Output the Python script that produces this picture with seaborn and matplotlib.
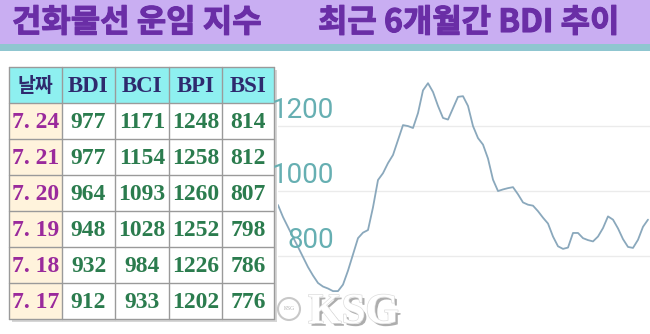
import matplotlib
matplotlib.use("Agg")
import matplotlib.pyplot as plt
import matplotlib.patheffects as pe
from matplotlib.patches import Rectangle, Circle
import seaborn as sns
import pandas as pd

# ---------------- data ----------------
title_left = "건화물선 운임 지수"
title_right = "최근 6개월간 BDI 추이"

table_cols = ["날짜", "BDI", "BCI", "BPI", "BSI"]
dates = ["7. 24", "7. 21", "7. 20", "7. 19", "7. 18", "7. 17"]
bdi = [977, 977, 964, 948, 932, 912]
bci = [1171, 1154, 1093, 1028, 984, 933]
bpi = [1248, 1258, 1260, 1252, 1226, 1202]
bsi = [814, 812, 807, 798, 786, 776]

# BDI over the last 6 months (evenly spaced samples)
bdi_trend = [957, 920, 889, 858, 828, 797, 766, 740, 717, 706, 700, 692, 692, 712,
             755, 805, 855, 872, 880, 950, 1034, 1055, 1086, 1111, 1157, 1203, 1200,
             1194, 1240, 1310, 1332, 1305, 1262, 1225, 1220, 1255, 1290, 1292, 1262,
             1200, 1163, 1143, 1100, 1035, 1000, 1005, 1009, 1012, 990, 965, 958, 955,
             938, 918, 900, 860, 830, 822, 826, 871, 871, 855, 849, 845, 860, 886,
             922, 912, 885, 852, 828, 825, 850, 890, 912]
y_ticks = [800, 1000, 1200]
watermark = "KSG"

# ---------------- figure ----------------
sns.set_theme(style="white")
plt.rcParams["font.family"] = ["Noto Sans CJK KR", "DejaVu Sans"]

W, H = 650, 334
fig = plt.figure(figsize=(W / 100, H / 100), dpi=100)
fig.patch.set_facecolor("white")

bg = fig.add_axes([0, 0, 1, 1])
bg.set_xlim(0, W)
bg.set_ylim(H, 0)
bg.axis("off")

# header band
bg.add_patch(Rectangle((0, 0), W, 44, color="#c9aef2", lw=0))
bg.add_patch(Rectangle((0, 44), W, 7, color="#8fc6d0", lw=0))
title_color = "#6a2ea6"
for x0, t in [(12, title_left), (318, title_right)]:
    bg.text(x0, 23, t, fontsize=23, fontweight="bold", color=title_color,
            va="center", ha="left",
            path_effects=[pe.Stroke(linewidth=0.8, foreground=title_color), pe.Normal()])

# ---------------- table ----------------
col_edges = [9, 62, 115, 169, 222, 274]
row_top, row_h = 67, 36
n_rows = len(dates) + 1
tbl_bottom = row_top + row_h * n_rows

# shadow
bg.add_patch(Rectangle((col_edges[0] + 3, row_top + 3), col_edges[-1] - col_edges[0],
                       tbl_bottom - row_top, color="#d6d6d6", lw=0, zorder=1))
bg.add_patch(Rectangle((col_edges[0], row_top), col_edges[-1] - col_edges[0],
                       tbl_bottom - row_top, color="white", lw=0, zorder=2))
bg.add_patch(Rectangle((col_edges[0], row_top), col_edges[-1] - col_edges[0], row_h,
                       color="#8ef0f0", lw=0, zorder=2))
bg.add_patch(Rectangle((col_edges[0], row_top + row_h), col_edges[1] - col_edges[0],
                       row_h * len(dates), color="#fff3dc", lw=0, zorder=2))
for x in col_edges:
    bg.plot([x, x], [row_top, tbl_bottom], color="#9a9a9a", lw=1, zorder=3)
for r in range(n_rows + 1):
    y = row_top + r * row_h
    bg.plot([col_edges[0], col_edges[-1]], [y, y], color="#9a9a9a", lw=1, zorder=3)

centers = [(col_edges[i] + col_edges[i + 1]) / 2 for i in range(len(col_edges) - 1)]
serif = ["Liberation Serif", "DejaVu Serif"]
head_color = "#2e2a6e"
for i, c in enumerate(table_cols):
    fam = ["Noto Sans CJK KR", "DejaVu Sans"] if i == 0 else serif
    fs = 14 if i == 0 else 16.5
    bg.text(centers[i], row_top + row_h / 2 + 1, c, fontsize=fs, fontweight="bold",
            family=fam, color=head_color, ha="center", va="center", zorder=4)

df = pd.DataFrame({"날짜": dates, "BDI": bdi, "BCI": bci, "BPI": bpi, "BSI": bsi})
for r, row in df.iterrows():
    yc = row_top + row_h * (r + 1) + row_h / 2 + 1
    for i, c in enumerate(table_cols):
        color = "#9a2a9c" if i == 0 else "#2b7c4e"
        bg.text(centers[i], yc, str(row[c]), fontsize=17, fontweight="bold",
                family=serif, color=color, ha="center", va="center", zorder=4)

# ---------------- line chart ----------------
px_left, px_top = 278, 52
ax = fig.add_axes([px_left / W, 0, (W - px_left) / W, (H - px_top) / H])
ax.set_facecolor("none")
trend = pd.DataFrame({"i": range(len(bdi_trend)), "BDI": bdi_trend})
sns.lineplot(data=trend, x="i", y="BDI", ax=ax, color="#8aa8bc", lw=1.3)
ax.set_xlim(0, (W - px_left) / 5)
ax.set_ylim(560, 1428)
for v in y_ticks:
    ax.axhline(v, color="#ebebeb", lw=1, zorder=0)
    ax.text((334 - px_left) / (W - px_left), v + 6, str(v),
            transform=ax.get_yaxis_transform(), ha="right", va="bottom",
            fontsize=20, family=["Liberation Sans Narrow", "Roboto", "DejaVu Sans"],
            color="#66afb2")
ax.set_xlabel("")
ax.set_ylabel("")
ax.set_xticks([])
ax.set_yticks([])
for s in ax.spines.values():
    s.set_visible(False)

# watermark
wm = fig.add_axes([0, 0, 1, 1])
wm.set_xlim(0, W)
wm.set_ylim(H, 0)
wm.axis("off")
wm.add_patch(Circle((289, 309), 11, facecolor="white", edgecolor="#c8c8c8", lw=1.5))
wm.text(289, 309, watermark, fontsize=4, color="#b0b0b0", ha="center", va="center",
        family=serif)
wm.text(308, 313, watermark, fontsize=31, fontweight="bold", family=serif,
        color="white", ha="left", va="center",
        path_effects=[pe.withSimplePatchShadow(offset=(2, -2), shadow_rgbFace="#999999",
                                               alpha=0.8),
                      pe.Stroke(linewidth=1, foreground="#dddddd"), pe.Normal()])

fig.savefig("out.png", dpi=100)
